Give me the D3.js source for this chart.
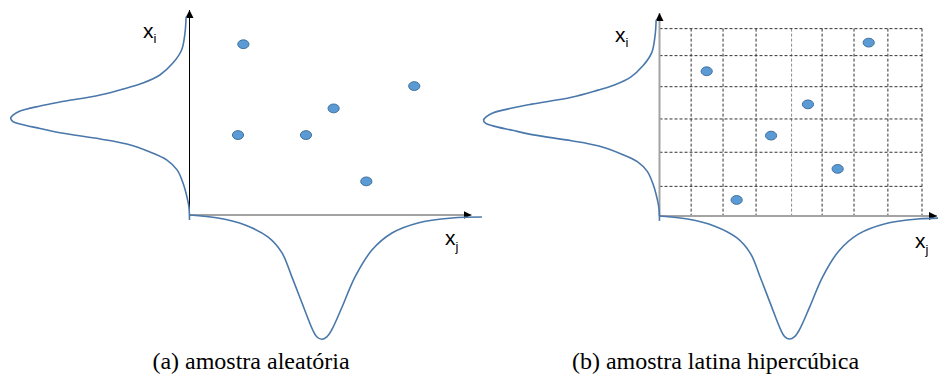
<!DOCTYPE html>
<html>
<head>
<meta charset="utf-8">
<script src="https://cdn.jsdelivr.net/npm/d3@7"></script>
<style>
  html, body { margin: 0; padding: 0; background: #fff; }
  svg { display: block; }
</style>
</head>
<body>
<svg id="chart" width="938" height="379"></svg>
<script>
// ---- data (arbitrary units: axes run from 0 to 10) ----
const captions = ["(a) amostra aleatória", "(b) amostra latina hipercúbica"];
const axisNames = ["x", "x"];
const axisSubs = ["i", "j"];

// marginal density of x_i (drawn to the left of the vertical axis)
const xiLevels  = [9.67, 8.88, 8.05, 7.41, 6.83, 6.44, 6.20, 5.85, 5.51, 5.32, 5.07, 4.87, 4.72, 4.56, 4.44, 4.22, 4.01, 3.71, 3.46, 3.07, 2.68, 2.20, 1.56, 0.88, 0.39, -0.24];
const xiDensity = [0.12, 0.16, 0.28, 0.59, 1.05, 1.65, 2.22, 3.17, 4.60, 5.30, 6.01, 6.26, 6.34, 6.26, 6.01, 5.30, 4.60, 3.17, 2.22, 1.40, 0.80, 0.44, 0.23, 0.09, 0.02, 0.00];

// marginal density of x_j (drawn below the horizontal axis)
const xjLevels  = [0.02, 1.01, 1.97, 2.78, 3.28, 3.63, 3.99, 4.37, 4.51, 4.69, 4.87, 5.04, 5.41, 5.87, 6.47, 7.18, 8.10, 9.31, 10.37];
const xjDensity = [0.00, 0.15, 0.49, 1.07, 1.85, 3.02, 4.29, 5.61, 5.94, 6.06, 5.94, 5.61, 4.49, 3.02, 1.71, 0.88, 0.39, 0.15, 0.10];

// (a) random sample
const randomXj = [1.91, 7.97, 5.11, 1.72, 4.13, 6.27];
const randomXi = [8.33, 6.29, 5.20, 3.90, 3.90, 1.64];

// (b) latin hypercube sample
const lhsXj = [7.54, 1.70, 5.35, 4.02, 6.42, 2.78];
const lhsXi = [8.54, 7.13, 5.50, 3.96, 2.32, 0.79];

// (b) stratification grid
const gridXj = [1.14, 2.29, 3.48, 4.76, 5.86, 7.01, 8.23, 9.46];
const gridXi = [9.23, 7.90, 6.37, 4.78, 3.14, 1.46];

// ---- drawing ----
const svg = d3.select("#chart");
const curveColor = "#4a78aa";

const defs = svg.append("defs");
defs.append("marker")
  .attr("id", "arrow")
  .attr("viewBox", "0 0 10 10")
  .attr("refX", 10).attr("refY", 5)
  .attr("markerWidth", 8).attr("markerHeight", 8)
  .attr("markerUnits", "userSpaceOnUse")
  .attr("orient", "auto")
  .append("path").attr("d", "M0,0 L10,5 L0,10 Z").attr("fill", "#000");

const panelDefs = [
  { x: d3.scaleLinear().domain([0, 10]).range([189.5, 471.5]),
    y: d3.scaleLinear().domain([0, 10]).range([215, 10]),
    vColor: "#000", vWidth: 1, hColor: "#a3a3a3", hWidth: 2,
    ptsX: randomXj, ptsY: randomXi, grid: false,
    capX: 251, labI: [143, 38], labJ: [445, 245] },
  { x: d3.scaleLinear().domain([0, 10]).range([659.5, 937]),
    y: d3.scaleLinear().domain([0, 10]).range([216, 13]),
    vColor: "#a3a3a3", vWidth: 2, hColor: "#a3a3a3", hWidth: 2,
    ptsX: lhsXj, ptsY: lhsXi, grid: true,
    capX: 715.5, labI: [615, 42], labJ: [915, 248] }
];

panelDefs.forEach((p, k) => {
  const g = svg.append("g");
  const x = p.x, y = p.y;

  // grid
  if (p.grid) {
    const gx0 = x(0), gx1 = x(d3.max(gridXj));
    const gy0 = y(0), gy1 = y(d3.max(gridXi));
    g.selectAll("line.gv").data(gridXj).join("line")
      .attr("x1", d => x(d)).attr("x2", d => x(d))
      .attr("y1", gy1).attr("y2", gy0)
      .attr("stroke", (d, i) => i === 3 ? "#8a8a8a" : "#333")
      .attr("stroke-width", 1).attr("stroke-dasharray", "3,2");
    g.selectAll("line.gh").data(gridXi).join("line")
      .attr("y1", d => y(d)).attr("y2", d => y(d))
      .attr("x1", gx0).attr("x2", gx1)
      .attr("stroke", "#333").attr("stroke-width", 1).attr("stroke-dasharray", "3,2");
  }

  // axes
  g.append("line")
    .attr("x1", x(0)).attr("y1", y(0)).attr("x2", x(0)).attr("y2", y(10))
    .attr("stroke", p.vColor).attr("stroke-width", p.vWidth)
    .attr("marker-end", "url(#arrow)");
  g.append("line")
    .attr("x1", x(0)).attr("y1", y(0)).attr("x2", x(10)).attr("y2", y(0))
    .attr("stroke", p.hColor).attr("stroke-width", p.hWidth)
    .attr("marker-end", "url(#arrow)");

  // density curves
  const leftLine = d3.line()
    .x((d, i) => x(-xiDensity[i]))
    .y(d => y(d))
    .curve(d3.curveCatmullRom.alpha(0.5));
  g.append("path").datum(xiLevels).attr("d", leftLine)
    .attr("fill", "none").attr("stroke", curveColor).attr("stroke-width", 1.6);

  const lowLine = d3.line()
    .x(d => x(d))
    .y((d, i) => y(-xjDensity[i]))
    .curve(d3.curveCatmullRom.alpha(0.5));
  g.append("path").datum(xjLevels).attr("d", lowLine)
    .attr("fill", "none").attr("stroke", curveColor).attr("stroke-width", 1.6);

  // sample points
  g.selectAll("ellipse").data(p.ptsX).join("ellipse")
    .attr("cx", d => x(d)).attr("cy", (d, i) => y(p.ptsY[i]))
    .attr("rx", 5.6).attr("ry", 4.4)
    .attr("fill", "#5b9bd5").attr("stroke", "#41719c").attr("stroke-width", 1);

  // axis labels
  [p.labI, p.labJ].forEach((pos, j) => {
    const t = g.append("text")
      .attr("x", pos[0]).attr("y", pos[1])
      .attr("font-family", "'Liberation Sans', Arial, sans-serif")
      .attr("font-size", 21).attr("fill", "#000");
    t.append("tspan").text(axisNames[j]);
    t.append("tspan").attr("font-size", 13).attr("dy", j === 0 ? 5 : 6).text(axisSubs[j]);
  });

  // caption
  g.append("text")
    .attr("x", p.capX).attr("y", 369)
    .attr("text-anchor", "middle")
    .attr("font-family", "'Liberation Serif', 'Times New Roman', serif")
    .attr("font-size", 24).attr("fill", "#000")
    .text(captions[k]);
});
</script>
</body>
</html>
